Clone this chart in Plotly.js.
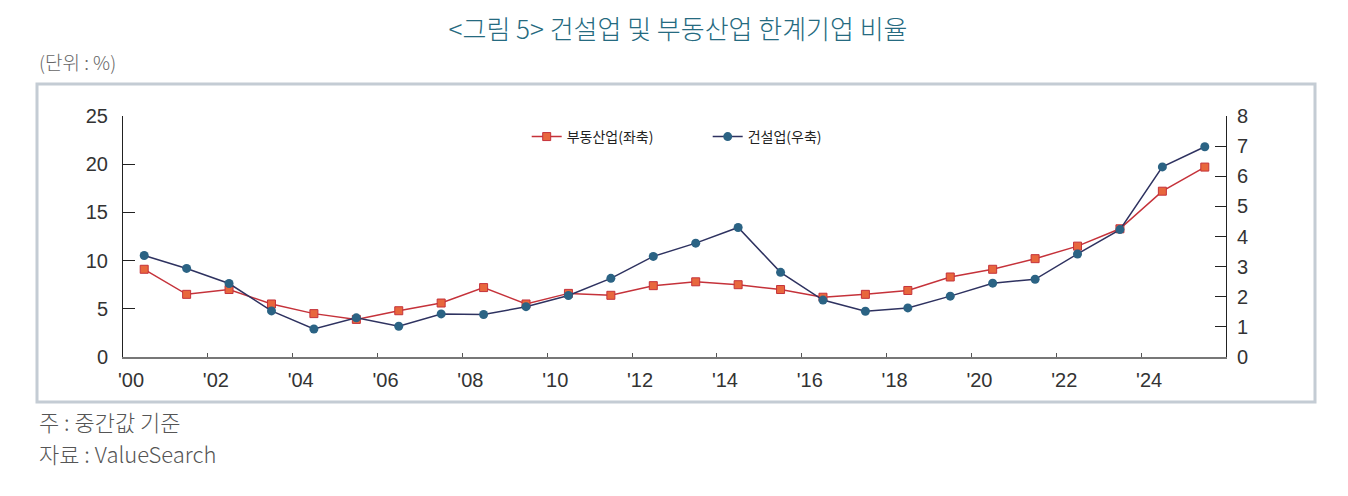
<!DOCTYPE html>
<html>
<head>
<meta charset="utf-8">
<script src="https://cdn.plot.ly/plotly-3.0.1.min.js"></script>
<style>
  html, body { margin: 0; padding: 0; background: #fff; }
  #plot { width: 1348px; height: 496px; }
</style>
</head>
<body>
<div id="plot"></div>
<script>
// 연도 (각 점은 해당 연도 구간의 가운데에 찍힘)
var years = [2000, 2001, 2002, 2003, 2004, 2005, 2006, 2007, 2008, 2009,
             2010, 2011, 2012, 2013, 2014, 2015, 2016, 2017, 2018, 2019,
             2020, 2021, 2022, 2023, 2024, 2025]

// 부동산업 (좌축, %)
var realEstate = [9.1, 6.5, 7.0, 5.5, 4.5, 3.9, 4.8, 5.6, 7.2, 5.5,
                  6.6, 6.4, 7.4, 7.8, 7.5, 7.0, 6.2, 6.5, 6.9, 8.3,
                  9.1, 10.2, 11.5, 13.3, 17.2, 19.7]

// 건설업 (우축, %)
var construction = [3.37, 2.94, 2.44, 1.53, 0.93, 1.30, 1.02, 1.43, 1.41, 1.67,
                    2.04, 2.61, 3.34, 3.78, 4.30, 2.81, 1.89, 1.52, 1.63, 2.02,
                    2.45, 2.58, 3.42, 4.23, 6.31, 6.98]

var xTickVals = [2000, 2002, 2004, 2006, 2008, 2010, 2012, 2014, 2016, 2018, 2020, 2022, 2024]
var xTickText = ["'00", "'02", "'04", "'06", "'08", "'10", "'12", "'14", "'16", "'18", "'20", "'22", "'24"]

var numFont = '"Liberation Sans Narrow", "Liberation Sans", Arial, sans-serif'
var krFont = '"Noto Sans CJK KR", "Noto Sans", sans-serif'

var xMid = years.map(function (y) { return y + 0.5 })

var trace1 = {
    x: xMid,
    y: realEstate,
    name: '부동산업(좌축)',
    type: 'scatter',
    mode: 'lines+markers',
    line: { color: '#c5323a', width: 1.5 },
    marker: { symbol: 'square', size: 8, color: '#e8673d', line: { color: '#c5323a', width: 1 } },
    yaxis: 'y'
}

var trace2 = {
    x: xMid,
    y: construction,
    name: '건설업(우축)',
    type: 'scatter',
    mode: 'lines+markers',
    line: { color: '#2e3260', width: 1.5 },
    marker: { symbol: 'circle', size: 9, color: '#2b6384' },
    yaxis: 'y2'
}

var layout = {
    width: 1348,
    height: 496,
    margin: { l: 123, r: 122, t: 116, b: 139 },
    paper_bgcolor: '#ffffff',
    plot_bgcolor: '#ffffff',
    showlegend: true,
    title: {
        text: '<그림 5> 건설업 및 부동산업 한계기업 비율',
        font: { family: krFont, size: 26, color: '#256a80', weight: 300 },
        x: 0.503, xanchor: 'center',
        y: 0.94, yanchor: 'middle'
    },
    legend: {
        orientation: 'h',
        x: 0.366, xanchor: 'left',
        y: 0.913, yanchor: 'middle',
        entrywidth: 136,
        entrywidthmode: 'pixels',
        bgcolor: 'rgba(0,0,0,0)',
        font: { family: krFont, size: 14, color: '#222' }
    },
    xaxis: {
        range: [2000, 2026],
        tickvals: xTickVals,
        ticktext: xTickText,
        ticks: 'inside',
        ticklen: 4,
        tickcolor: '#555',
        showgrid: false,
        zeroline: false,
        showline: true,
        linecolor: '#777',
        linewidth: 2,
        ticklabelshift: 8,
        ticklabelstandoff: 4,
        tickfont: { family: numFont, size: 20, color: '#333' },
        fixedrange: true
    },
    yaxis: {
        range: [0, 25],
        tickvals: [0, 5, 10, 15, 20, 25],
        ticks: 'inside',
        ticklen: 12,
        tickcolor: '#222',
        showgrid: false,
        zeroline: false,
        showline: true,
        linecolor: '#222',
        linewidth: 1,
        ticklabelstandoff: 10,
        tickfont: { family: numFont, size: 20, color: '#333' }
    },
    yaxis2: {
        range: [0, 8],
        tickvals: [0, 1, 2, 3, 4, 5, 6, 7, 8],
        overlaying: 'y',
        side: 'right',
        ticks: 'inside',
        ticklen: 11,
        tickcolor: '#222',
        showgrid: false,
        zeroline: false,
        showline: true,
        linecolor: '#222',
        linewidth: 1,
        ticklabelstandoff: 6,
        tickfont: { family: numFont, size: 20, color: '#333' }
    },
    shapes: [
        {
            type: 'rect', xref: 'paper', yref: 'paper',
            x0: (37 - 123) / 1103, x1: (1315 - 123) / 1103,
            y0: (357 - 402) / 241, y1: (357 - 84) / 241,
            line: { color: '#c4ccd4', width: 3 },
            layer: 'below'
        }
    ],
    annotations: [
        {
            text: '(단위 : %)', xref: 'paper', yref: 'paper',
            x: (37 - 123) / 1103, xanchor: 'left',
            y: (357 - 62) / 241, yanchor: 'middle',
            showarrow: false,
            font: { family: krFont, size: 19, color: '#666', weight: 300 }
        },
        {
            text: '주 : 중간값 기준', xref: 'paper', yref: 'paper',
            x: (37 - 123) / 1103, xanchor: 'left',
            y: (357 - 421) / 241, yanchor: 'middle',
            showarrow: false,
            font: { family: krFont, size: 22, color: '#555', weight: 300 }
        },
        {
            text: '자료 : ValueSearch', xref: 'paper', yref: 'paper',
            x: (37 - 123) / 1103, xanchor: 'left',
            y: (357 - 453) / 241, yanchor: 'middle',
            showarrow: false,
            font: { family: krFont, size: 22, color: '#555', weight: 300 }
        }
    ]
}

Plotly.newPlot('plot', [trace1, trace2], layout, { displayModeBar: false, staticPlot: true })
</script>
</body>
</html>
